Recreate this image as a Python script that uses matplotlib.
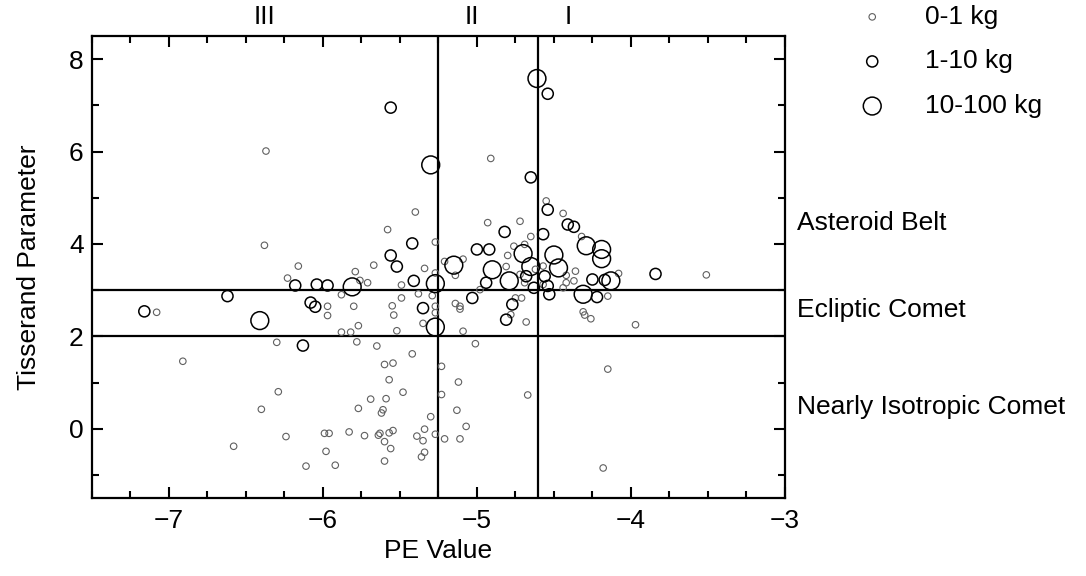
import matplotlib
matplotlib.use("Agg")
import matplotlib.pyplot as plt
from matplotlib.ticker import MultipleLocator
from matplotlib.transforms import offset_copy

plt.rcParams['font.family'] = ['Liberation Sans', 'DejaVu Sans']

# --- data (PE value, Tisserand parameter) per mass class ---
small_pe = [-6.37, -6.38, -5.40, -5.58, -5.27, -6.16, -5.67, -5.34, -5.79,
            -6.23, -5.71, -5.88, -5.76, -5.49, -5.38, -5.29, -5.49, -7.08, -5.97,
            -5.97, -5.80, -5.77, -5.88, -5.82, -5.55, -5.54, -5.52, -5.35, -5.27,
            -5.27, -6.30, -5.78, -5.65, -5.42, -6.91,
            -4.91, -4.55, -4.44, -4.93, -4.72, -4.65, -4.76, -4.69, -4.32, -4.08,
            -3.51, -5.09, -5.21, -4.80, -4.81, -4.36,
            -5.27, -5.14, -4.69, -4.62, -4.57, -4.42, -4.42, -4.37, -4.15, -4.44,
            -4.98, -4.71, -4.78, -4.68, -5.14, -5.11, -5.11, -5.09, -5.01, -4.31,
            -4.30, -4.26, -3.97, -4.72, -4.75, -4.57,
            -5.60, -5.545, -5.57, -5.48, -6.29, -5.69, -5.59, -6.40, -5.77, -5.61,
            -5.62, -5.30, -6.24, -6.58, -5.99, -5.96, -5.83, -5.73, -5.64, -5.63,
            -5.57, -5.545, -5.60, -5.56, -5.98, -6.11, -5.92, -5.60, -5.39, -5.34,
            -5.35, -5.34, -5.36, -5.27,
            -5.23, -5.12, -5.23, -4.67, -5.13, -5.07, -5.21, -5.11, -4.15, -4.18]
small_t = [6.01, 3.97, 4.69, 4.31, 4.04, 3.52, 3.54, 3.47, 3.40,
           3.26, 3.16, 2.90, 3.21, 3.11, 2.92, 2.88, 2.83, 2.52, 2.65,
           2.45, 2.65, 2.23, 2.09, 2.09, 2.66, 2.46, 2.12, 2.28, 2.65,
           2.51, 1.87, 1.88, 1.79, 1.62, 1.46,
           5.85, 4.93, 4.66, 4.46, 4.49, 4.16, 3.95, 3.99, 4.16, 3.36,
           3.33, 3.67, 3.62, 3.75, 3.51, 3.41,
           3.37, 3.32, 3.16, 3.45, 3.12, 3.32, 3.16, 3.20, 2.87, 3.05,
           3.01, 2.83, 2.47, 2.31, 2.71, 2.65, 2.59, 2.11, 1.84, 2.53,
           2.46, 2.38, 2.25, 3.34, 2.83, 3.52,
           1.39, 1.42, 1.06, 0.79, 0.80, 0.64, 0.65, 0.42, 0.44, 0.41,
           0.34, 0.26, -0.17, -0.38, -0.10, -0.10, -0.07, -0.15, -0.14, -0.10,
           -0.09, -0.04, -0.28, -0.43, -0.49, -0.81, -0.79, -0.70, -0.16, -0.01,
           -0.26, -0.51, -0.61, -0.12,
           1.35, 1.01, 0.74, 0.73, 0.40, 0.05, -0.22, -0.22, 1.29, -0.85]

medium_pe = [-5.56, -5.42, -5.56, -5.52, -6.18, -6.04, -5.97, -5.41, -6.62, -7.16,
             -6.08, -6.05, -5.35, -6.13,
             -4.54, -4.65, -4.54, -4.41, -4.37, -4.57, -4.82, -5.00, -4.92, -3.84,
             -4.94, -4.68, -4.63, -4.56, -4.54, -4.53, -4.25, -4.17, -4.22, -5.03,
             -4.77, -4.81]
medium_t = [6.95, 4.01, 3.75, 3.51, 3.10, 3.12, 3.10, 3.20, 2.87, 2.54,
            2.73, 2.64, 2.61, 1.80,
            7.25, 5.44, 4.74, 4.42, 4.37, 4.21, 4.26, 3.88, 3.88, 3.35,
            3.16, 3.30, 3.05, 3.30, 3.09, 2.91, 3.23, 3.22, 2.85, 2.83,
            2.69, 2.36]

large_pe = [-5.30, -5.81, -5.27, -6.41, -5.27, -4.61, -4.70, -4.50, -4.29, -4.19,
            -4.19, -5.15, -4.90, -4.65, -4.47, -4.79, -4.13, -4.31]
large_t = [5.71, 3.07, 3.14, 2.34, 2.20, 7.58, 3.79, 3.76, 3.96, 3.88,
           3.68, 3.54, 3.44, 3.51, 3.48, 3.20, 3.20, 2.91]

class_labels = ['0-1 kg', '1-10 kg', '10-100 kg']
pe_cuts = [-5.25, -4.6]
t_cuts = [2, 3]
region_names = ['III', 'II', 'I']
orbit_names = ['Asteroid Belt', 'Ecliptic Comet', 'Nearly Isotropic Comet']

FS = 19

# --- figure ---
fig = plt.figure(figsize=(10.86, 5.76), dpi=100)
ax = fig.add_axes([0.0847, 0.1354, 0.638, 0.8021])

h1 = ax.scatter(small_pe, small_t, s=22, facecolors='none', edgecolors='#606060',
                linewidths=0.8, zorder=3)
h2 = ax.scatter(medium_pe, medium_t, s=64, facecolors='none', edgecolors='black',
                linewidths=1.1, zorder=3)
h3 = ax.scatter(large_pe, large_t, s=165, facecolors='none', edgecolors='black',
                linewidths=1.1, zorder=3)

for xc in pe_cuts:
    ax.axvline(xc, color='black', lw=1.6, zorder=2)
for yc in t_cuts:
    ax.axhline(yc, color='black', lw=1.6, zorder=2)

ax.set_xlim(-7.5, -3)
ax.set_ylim(-1.5, 8.5)
ax.xaxis.set_major_locator(MultipleLocator(1))
ax.xaxis.set_minor_locator(MultipleLocator(0.25))
ax.yaxis.set_major_locator(MultipleLocator(2))
ax.yaxis.set_minor_locator(MultipleLocator(1))
ax.tick_params(which='both', direction='in', top=True, right=True, width=1.5,
               labelsize=FS, colors='black')
ax.tick_params(which='major', length=8)
ax.tick_params(which='minor', length=5)
ax.tick_params(axis='x', pad=8)
ax.tick_params(axis='y', pad=6)
for sp in ax.spines.values():
    sp.set_linewidth(1.6)

ax.set_xlabel('PE Value', fontsize=FS, labelpad=4)
ax.set_ylabel('Tisserand Parameter', fontsize=FS, labelpad=20)

# region labels above the plot
region_x = [-6.38, -5.03, -4.41]
above = offset_copy(ax.get_xaxis_transform(), fig=fig, x=0, y=5, units='points')
for rx, name in zip(region_x, region_names):
    ax.text(rx, 1.0, name, transform=above, ha='center', va='bottom', fontsize=FS)

# orbit type labels on the right
orbit_y = [4.46, 2.57, 0.48]
for oy, name in zip(orbit_y, orbit_names):
    ax.text(1.017, oy, name, transform=ax.get_yaxis_transform(), ha='left',
            va='center', fontsize=FS)

fig.legend([h1, h2, h3], class_labels, loc='upper left',
           bbox_to_anchor=(0.774, 1.01), frameon=False, fontsize=FS,
           scatterpoints=1, handlelength=1.6, handletextpad=1.2,
           labelspacing=0.78, borderaxespad=0)

fig.savefig('out.png', dpi=100)
